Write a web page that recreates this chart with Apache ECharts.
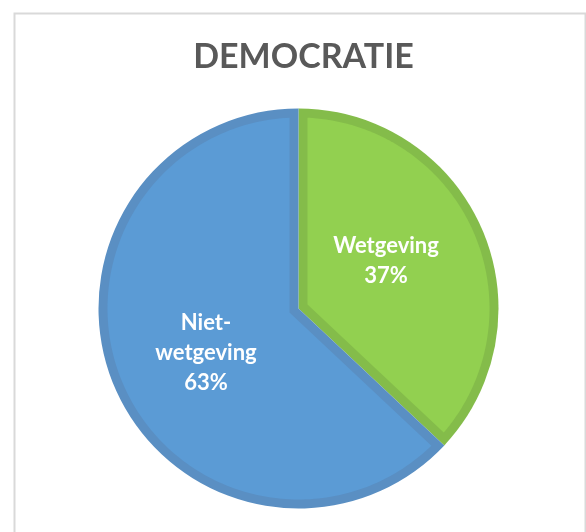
<!DOCTYPE html>
<html><head><meta charset="utf-8">
<script src="https://cdn.jsdelivr.net/npm/echarts@6/dist/echarts.min.js"></script>
<style>html,body{margin:0;padding:0;background:#fff}#c{width:586px;height:532px}</style>
</head><body><div id="c"></div>
<script>
const titleText = 'DEMOCRATIE';
const categories = ['Wetgeving', 'Niet-wetgeving'];
const labelNames = ['Wetgeving', 'Niet-\nwetgeving'];
const values = [37, 63];

// styling (kept separate from the data)
const fillColors = ['#92d050', '#5b9bd5'];
const edgeColors = ['#84bc4a', '#5a8fc3'];
const labelShift = [[-7, -7], [2, 4]];

const CX = 298.5, CY = 308.5, R = 200, D = 9;
const total = values.reduce((a, b) => a + b, 0);

function insetPoints(i) {
  let cum = 0;
  for (let k = 0; k < i; k++) cum += values[k];
  const a1 = Math.PI / 2 - cum / total * 2 * Math.PI;
  const a2 = a1 - values[i] / total * 2 * Math.PI;
  const theta = a1 - a2;
  const bis = a1 - theta / 2;
  const s = D / Math.sin(theta / 2);
  const toScreen = (x, y) => [CX + x, CY - y];
  const pts = [toScreen(s * Math.cos(bis), s * Math.sin(bis))];
  const da = Math.asin(D / (R - D));
  const start = a1 - da, end = a2 + da;
  const n = 180;
  for (let j = 0; j <= n; j++) {
    const a = start + (end - start) * j / n;
    pts.push(toScreen((R - D) * Math.cos(a), (R - D) * Math.sin(a)));
  }
  return pts;
}

const chart = echarts.init(document.getElementById('c'), null, {renderer: 'canvas'});
chart.setOption({
  animation: false,
  backgroundColor: '#ffffff',
  title: {
    text: titleText,
    left: CX,
    textAlign: 'center',
    top: 35,
    textStyle: {fontFamily: 'Lato', fontWeight: 'bold', fontSize: 34, color: '#595959'}
  },
  graphic: [{
    type: 'rect', left: 12, top: 11, silent: true, z: 0,
    shape: {width: 571, height: 540},
    style: {fill: 'none', stroke: '#d9d9d9', lineWidth: 2}
  }],
  series: [
    {
      type: 'pie', z: 1, center: [CX, CY], radius: R, startAngle: 90, clockwise: true,
      silent: true, label: {show: false}, labelLine: {show: false},
      emphasis: {disabled: true},
      data: categories.map((c, i) => ({name: c, value: values[i], itemStyle: {color: edgeColors[i], borderWidth: 0}}))
    },
    {
      type: 'custom', z: 2, coordinateSystem: 'none', silent: true,
      data: values,
      renderItem: (params) => ({
        type: 'polygon',
        shape: {points: insetPoints(params.dataIndex)},
        style: {fill: fillColors[params.dataIndex], stroke: 'none'}
      })
    },
    {
      type: 'pie', z: 3, center: [CX, CY], radius: R, startAngle: 90, clockwise: true,
      silent: true, labelLine: {show: false}, emphasis: {disabled: true},
      itemStyle: {color: 'rgba(0,0,0,0)', borderWidth: 0},
      label: {
        show: true, position: 'inside',
        fontFamily: 'Lato', fontWeight: 'bold', fontSize: 22, lineHeight: 30, color: '#ffffff',
        formatter: (p) => labelNames[p.dataIndex] + '\n' + Math.round(p.percent) + '%'
      },
      data: categories.map((c, i) => ({name: c, value: values[i], label: {offset: labelShift[i]}}))
    }
  ]
});
</script></body></html>
